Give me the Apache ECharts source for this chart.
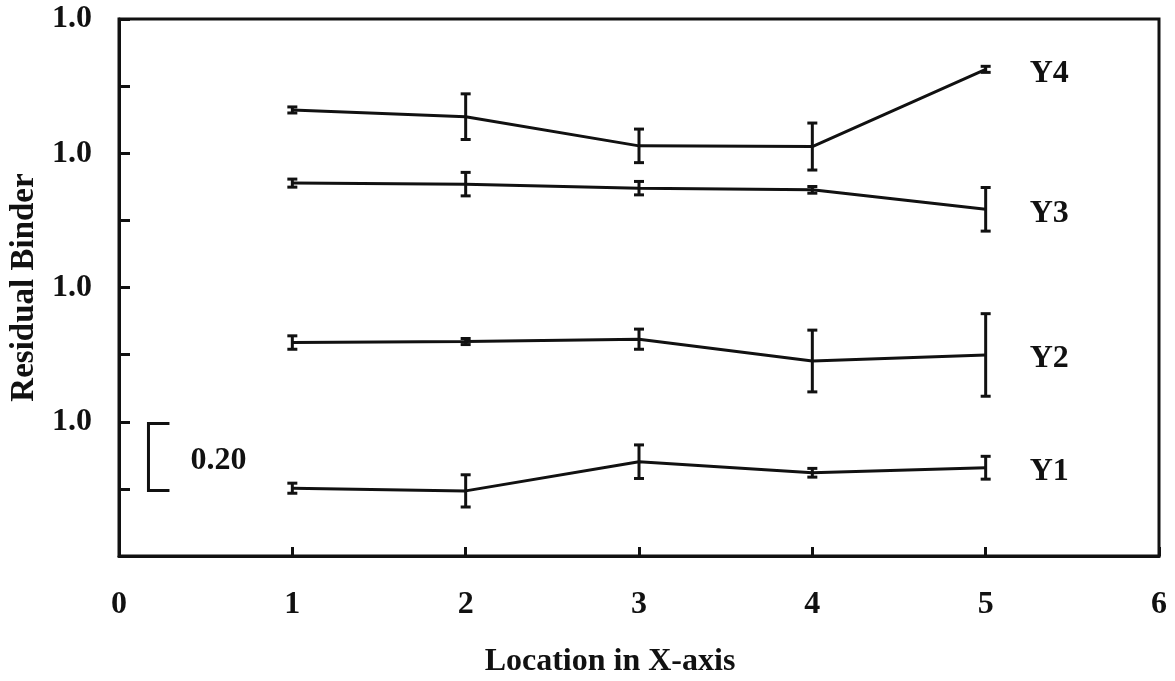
<!DOCTYPE html>
<html>
<head>
<meta charset="utf-8">
<title>Residual Binder by Location</title>
<script src="https://cdn.jsdelivr.net/npm/echarts@6/dist/echarts.min.js"></script>
<style>
  html, body { margin: 0; padding: 0; background: #ffffff; }
  #chart { width: 1175px; height: 681px; }
</style>
</head>
<body>
<div id="chart"></div>
<script>
// Measurement locations along the X-axis
const locations = [1, 2, 3, 4, 5];

// Curve names (stacked, each offset on the vertical scale)
const seriesNames = ['Y1', 'Y2', 'Y3', 'Y4'];

// Mean values per location
const y1Mean = [0.202, 0.194, 0.281, 0.248, 0.263];
const y2Mean = [0.636, 0.639, 0.646, 0.581, 0.599];
const y3Mean = [1.111, 1.108, 1.096, 1.091, 1.033];
const y4Mean = [1.329, 1.309, 1.222, 1.220, 1.450];

// Error half-widths per location
const y1Err = [0.015, 0.048, 0.050, 0.013, 0.034];
const y2Err = [0.020, 0.009, 0.030, 0.092, 0.123];
const y3Err = [0.012, 0.035, 0.020, 0.010, 0.065];
const y4Err = [0.009, 0.068, 0.050, 0.070, 0.009];

// Vertical axis: ticks and the labels shown at them
const yTickValues = [0, 0.2, 0.4, 0.6, 0.8, 1.0, 1.2, 1.4, 1.6];
const yTickLabels = ['', '', '1.0', '', '1.0', '', '1.0', '', '1.0'];

// Scale bar: position (x, bottom) and length in axis units
const scaleBarX = 0.17;
const scaleBarBottom = 0.195;
const scaleBarLength = 0.20;

const means = [y1Mean, y2Mean, y3Mean, y4Mean];
const errs = [y1Err, y2Err, y3Err, y4Err];

const FONT = 'Liberation Serif';
const INK = '#111111';
const FS = 32;

const chart = echarts.init(document.getElementById('chart'), null, { renderer: 'canvas' });

function errorBarItem(params, api) {
  const x = api.value(0);
  const lo = api.coord([x, api.value(1)]);
  const hi = api.coord([x, api.value(2)]);
  const cap = 5;
  const style = { stroke: INK, lineWidth: 3, fill: null };
  return {
    type: 'group',
    children: [
      { type: 'line', shape: { x1: lo[0], y1: lo[1], x2: hi[0], y2: hi[1] }, style },
      { type: 'line', shape: { x1: lo[0] - cap, y1: lo[1], x2: lo[0] + cap, y2: lo[1] }, style },
      { type: 'line', shape: { x1: hi[0] - cap, y1: hi[1], x2: hi[0] + cap, y2: hi[1] }, style }
    ]
  };
}

function scaleBarItem(params, api) {
  const x = api.value(0);
  const bottom = api.coord([x, api.value(1)]);
  const top = api.coord([x, api.value(1) + api.value(2)]);
  const capLen = 21;
  const style = { stroke: INK, lineWidth: 3, fill: null };
  return {
    type: 'group',
    children: [
      { type: 'polyline', shape: { points: [[top[0] + capLen, top[1]], [top[0], top[1]], [bottom[0], bottom[1]], [bottom[0] + capLen, bottom[1]]] }, style },
      {
        type: 'text',
        x: bottom[0] + 42,
        y: (top[1] + bottom[1]) / 2 + 4,
        style: {
          text: api.value(2).toFixed(2),
          fontFamily: FONT, fontWeight: 'bold', fontSize: FS,
          fill: INK, align: 'left', verticalAlign: 'middle'
        }
      }
    ]
  };
}

const series = [];
seriesNames.forEach((name, i) => {
  series.push({
    name: name,
    type: 'line',
    showSymbol: false,
    symbol: 'none',
    lineStyle: { color: INK, width: 3 },
    z: 3,
    data: locations.map((x, j) => [x, means[i][j]]),
    endLabel: {
      show: true,
      distance: 44,
      offset: [0, 4],
      formatter: name,
      fontFamily: FONT, fontWeight: 'bold', fontSize: FS, color: INK
    },
    emphasis: { disabled: true }
  });
  series.push({
    name: name + ' error',
    type: 'custom',
    renderItem: errorBarItem,
    z: 4,
    data: locations.map((x, j) => [x, means[i][j] - errs[i][j], means[i][j] + errs[i][j]]),
    silent: true
  });
});

series.push({
  name: 'scale bar',
  type: 'custom',
  renderItem: scaleBarItem,
  data: [[scaleBarX, scaleBarBottom, scaleBarLength]],
  silent: true
});

chart.setOption({
  backgroundColor: '#ffffff',
  animation: false,
  grid: {
    left: 119, right: 16, top: 19, bottom: 125,
    outerBoundsMode: 'none',
    show: true, borderColor: INK, borderWidth: 3, backgroundColor: 'transparent'
  },
  xAxis: {
    type: 'value',
    min: 0, max: 6, interval: 1,
    name: 'Location in X-axis',
    nameLocation: 'middle',
    nameGap: 90,
    nameTextStyle: {
      fontFamily: FONT, fontWeight: 'bold', fontSize: FS, color: INK,
      padding: [0, 58, 0, 0]
    },
    axisLine: { show: true, lineStyle: { color: INK, width: 3 } },
    axisTick: { show: true, inside: true, length: 9, lineStyle: { color: INK, width: 3 } },
    axisLabel: { fontFamily: FONT, fontWeight: 'bold', fontSize: FS, color: INK, margin: 33 },
    splitLine: { show: false }
  },
  yAxis: {
    type: 'value',
    min: yTickValues[0], max: yTickValues[yTickValues.length - 1], interval: 0.2,
    name: 'Residual Binder',
    nameLocation: 'middle',
    nameGap: 76,
    nameTextStyle: { fontFamily: FONT, fontWeight: 'bold', fontSize: 33, color: INK },
    axisLine: { show: true, lineStyle: { color: INK, width: 3 } },
    axisTick: { show: true, inside: true, length: 11, lineStyle: { color: INK, width: 3 } },
    axisLabel: {
      fontFamily: FONT, fontWeight: 'bold', fontSize: FS, color: INK, margin: 27,
      formatter: function (v) {
        const idx = yTickValues.findIndex(t => Math.abs(t - v) < 1e-6);
        return idx >= 0 ? yTickLabels[idx] : '';
      }
    },
    splitLine: { show: false }
  },
  series: series
});
</script>
</body>
</html>
